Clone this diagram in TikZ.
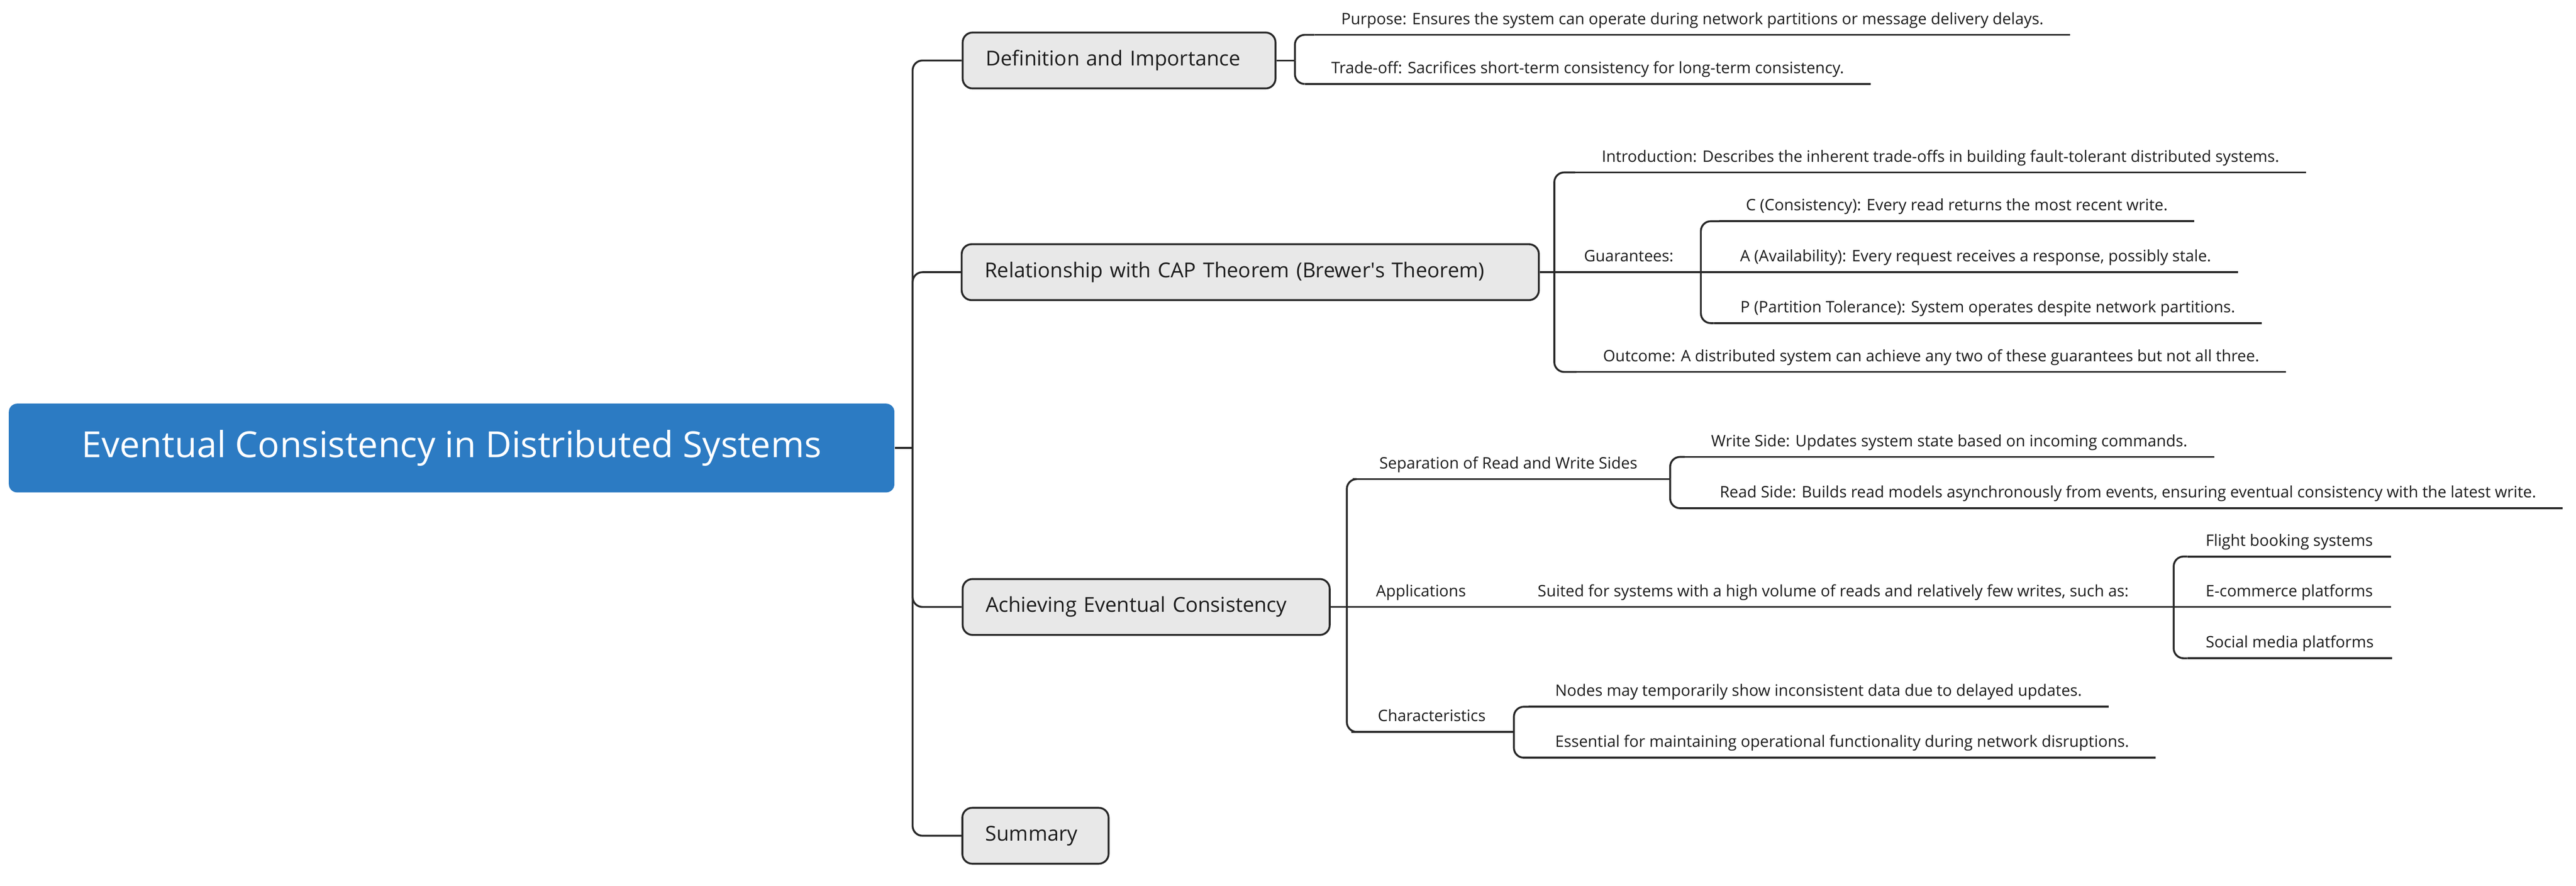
\documentclass[tikz,border=0pt]{standalone}
\usepackage{fontspec}
\setmainfont{Open Sans}
\definecolor{rootblue}{HTML}{2C7BC3}
\definecolor{boxgray}{HTML}{E8E8E8}
\definecolor{linegray}{HTML}{282828}
\definecolor{textgray}{HTML}{1C1C1C}

\begin{document}
\begin{tikzpicture}[x=1pt, y=-1pt,
	root/.style={fill=rootblue, rounded corners=5pt, text=white, inner sep=0pt,
		minimum width=539pt, minimum height=54pt, font=\fontsize{21.9}{26}\selectfont},
	branch/.style={draw=linegray, line width=1.15pt, fill=boxgray, rounded corners=6pt,
		anchor=west, inner xsep=14pt, inner ysep=0pt, minimum height=34pt, align=left,
		text=textgray, font=\fontsize{12.5}{15}\selectfont},
	topic/.style={anchor=south west, inner xsep=16pt, inner ysep=4pt,
		text height=7pt, text depth=2.2pt, text=textgray, font=\fontsize{9.6}{11}\selectfont},
	link/.style={draw=linegray, line width=1.15pt},
	elbow/.style={rounded corners=6pt, to path={|- (\tikztotarget)}}
]
\useasboundingbox (0,0) rectangle (1568,539);

%% Root and main branches
\node[root] (0) at (274.9,272.6) {Eventual Consistency in Distributed Systems};
\coordinate (t) at (555.5,272.6);
\node[branch, text width=162.4pt] (1) at (585.4,36.8) {Definition and Importance};
\node[branch, text width=323.3pt] (2) at (584.8,165.6) {Relationship with CAP Theorem (Brewer\textquotesingle s Theorem)};
\node[branch, text width=195.4pt] (3) at (585.4,369.3) {Achieving Eventual Consistency};
\node[branch, text width=61pt] (4) at (585.2,508.5) {Summary};

%% Definition and Importance
\coordinate (1-b) at (788.2,36.8);
\node[topic] (1-1) at (800.2,21.2) {Purpose: Ensures the system can operate during network partitions or message delivery delays.};
\node[topic] (1-2) at (794.2,51.1) {Trade-off: Sacrifices short-term consistency for long-term consistency.};

%% CAP theorem
\coordinate (2-b) at (946.1,165.6);
\node[topic] (2-1) at (958.8,104.9) {Introduction: Describes the inherent trade-offs in building fault-tolerant distributed systems.};
\node[topic] (2-2) at (948,165.6) {Guarantees:};
\coordinate (2-2-b) at (1035.3,165.6);
\node[topic] (2-2-1) at (1046.5,134.6) {C (Consistency): Every read returns the most recent write.};
\node[topic] (2-2-2) at (1043,165.6) {A (Availability): Every request receives a response, possibly stale.};
\node[topic] (2-2-3) at (1043.2,196.6) {P (Partition Tolerance): System operates despite network partitions.};
\node[topic] (2-3) at (959.6,226.3) {Outcome: A distributed system can achieve any two of these guarantees but not all three.};

%% Achieving eventual consistency
\coordinate (3-b) at (819.8,369.3);
\node[topic] (3-1) at (823.4,291.5) {Separation of Read and Write Sides};
\coordinate (3-1-b) at (1016.6,291.5);
\node[topic] (3-1-1) at (1025.4,278) {Write Side: Updates system state based on incoming commands.};
\node[topic] (3-1-2) at (1030.6,309.2) {Read Side: Builds read models asynchronously from events, ensuring eventual consistency with the latest write.};
\node[topic] (3-2) at (821.4,369.3) {Applications};
\node[topic] (3-2-1) at (919.8,369.3) {Suited for systems with a high volume of reads and relatively few writes, such as:};
\coordinate (3-2-1-b) at (1323.1,369.3);
\node[topic, inner xsep=11pt] (3-2-1-1) at (1331.4,338.6) {Flight booking systems};
\node[topic, inner xsep=11pt] (3-2-1-2) at (1331.4,369.3) {E-commerce platforms};
\node[topic, inner xsep=11pt] (3-2-1-3) at (1331.4,400.5) {Social media platforms};
\node[topic] (3-3) at (822.5,445.3) {Characteristics};
\coordinate (3-3-b) at (921.5,445.3);
\node[topic] (3-3-1) at (930.4,430) {Nodes may temporarily show inconsistent data due to delayed updates.};
\node[topic] (3-3-2) at (930.4,461) {Essential for maintaining operational functionality during network disruptions.};

%% Draw connectors
\path[link]
	(0) edge (t)
	(t) edge[elbow] (1.west)
	(t) edge[elbow] (2.west)
	(t) edge[elbow] (3.west)
	(t) edge[elbow] (4.west)
	(1) edge (1-b)
	(2) edge (2-b)
	(3) edge (3-b)
	;

\path[link]
	(1-b) edge[elbow] (1-1.south west) (1-1.south west) edge (1-1.south east)
	(1-b) edge[elbow] (1-2.south west) (1-2.south west) edge (1-2.south east)
	(2-b) edge[elbow] (2-1.south west) (2-1.south west) edge (2-1.south east)
	(2-b) edge (2-2-b)
	(2-b) edge[elbow] (2-3.south west) (2-3.south west) edge (2-3.south east)
	(2-2-b) edge[elbow] (2-2-1.south west) (2-2-1.south west) edge (2-2-1.south east)
	(2-2-b) edge (2-2-2.south east)
	(2-2-b) edge[elbow] (2-2-3.south west) (2-2-3.south west) edge (2-2-3.south east)
	;

\path[link]
	(3-b) edge[elbow] (3-1.south west) (3-1.south west) edge (3-1-b)
	(3-1-b) edge[elbow] (3-1-1.south west) (3-1-1.south west) edge (3-1-1.south east)
	(3-1-b) edge[elbow] (3-1-2.south west) (3-1-2.south west) edge (3-1-2.south east)
	(3-b) edge (3-2-1-b)
	(3-2-1-b) edge[elbow] (3-2-1-1.south west) (3-2-1-1.south west) edge (3-2-1-1.south east)
	(3-2-1-b) edge (3-2-1-2.south east)
	(3-2-1-b) edge[elbow] (3-2-1-3.south west) (3-2-1-3.south west) edge (3-2-1-3.south east)
	(3-b) edge[elbow] (3-3.south west) (3-3.south west) edge (3-3-b)
	(3-3-b) edge[elbow] (3-3-1.south west) (3-3-1.south west) edge (3-3-1.south east)
	(3-3-b) edge[elbow] (3-3-2.south west) (3-3-2.south west) edge (3-3-2.south east)
	;

\end{tikzpicture}
\end{document}
